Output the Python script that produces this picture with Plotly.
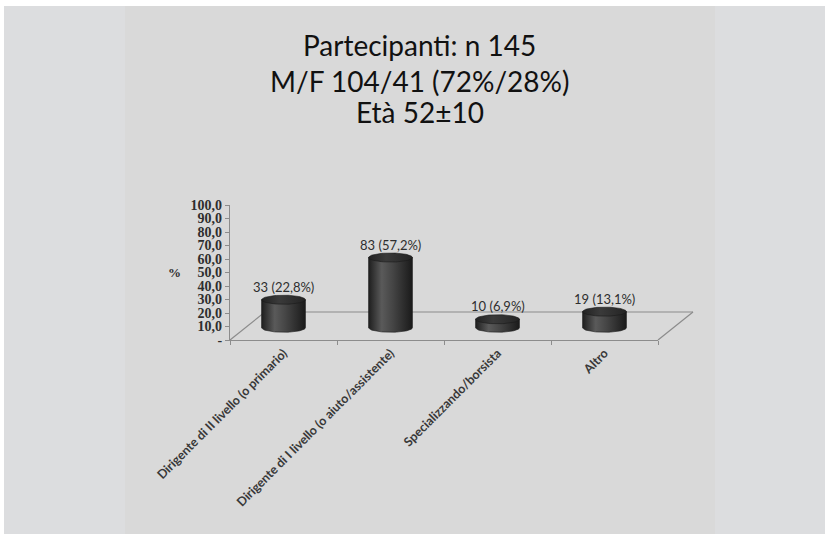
import numpy as np
import plotly.graph_objects as go

# ---- data ----
categories = [
    "Dirigente di II livello (o primario)",
    "Dirigente di I livello (o aiuto/assistente)",
    "Specializzando/borsista",
    "Altro",
]
counts = [33, 83, 10, 19]
percent = [22.8, 57.2, 6.9, 13.1]
y_tick_values = [0, 10, 20, 30, 40, 50, 60, 70, 80, 90, 100]
y_tick_labels = ["-", "10,0", "20,0", "30,0", "40,0", "50,0", "60,0",
                 "70,0", "80,0", "90,0", "100,0"]
title_lines = ["Partecipanti: n 145", "M/F 104/41 (72%/28%)", "Età 52±10"]

# ---- page geometry (pixels) ----
W, H = 825, 534


def px(x):
    return x / W


def py(y):
    return 1 - y / H


# front plane of the plot box
X0, X1 = 230, 658
Y0, Y100 = 340, 205
DEPTH_X, DEPTH_Y = 35, 28          # floor depth offset
UNIT = (Y0 - Y100) / 100.0          # pixels per percent

# cylinders sit halfway into the floor
mid_dx, mid_dy = DEPTH_X / 2, DEPTH_Y / 2
y2_min = -10

half_w = 0.205          # cylinder half width (category units)
rv = 5 / UNIT           # ellipse vertical radius (percent units)

fig = go.Figure()

t_half = np.linspace(0, np.pi, 40)
t_full = np.linspace(0, 2 * np.pi, 80)
for i, v in enumerate(percent):
    c = i
    # cylinder body: straight sides plus the rounded lower rim
    bx = np.concatenate([[c - half_w, c + half_w], c + half_w * np.cos(t_half), [c - half_w]])
    by = np.concatenate([[v, v], -rv * np.sin(t_half), [v]])
    fig.add_trace(go.Scatter(
        x=bx, y=by, xaxis="x2", yaxis="y2", mode="lines",
        line=dict(color="#1c1c1c", width=0.6),
        fill="toself",
        fillgradient=dict(type="horizontal",
                          colorscale=[[0, "#1e1e1e"], [0.3, "#5a5a5a"],
                                      [0.55, "#454545"], [1, "#1a1a1a"]]),
        hoverinfo="skip", showlegend=False,
    ))
    # cylinder top
    fig.add_trace(go.Scatter(
        x=c + half_w * np.cos(t_full), y=v + rv * np.sin(t_full),
        xaxis="x2", yaxis="y2", mode="lines",
        line=dict(color="#1a1a1a", width=0.6),
        fill="toself",
        fillgradient=dict(type="horizontal",
                          colorscale=[[0, "#222222"], [0.4, "#3a3a3a"], [1, "#242424"]]),
        hoverinfo="skip", showlegend=False,
    ))
    fig.add_annotation(
        x=c, y=v, xref="x2", yref="y2", yanchor="bottom", yshift=3,
        text=f"{counts[i]} ({str(v).replace('.', ',')}%)",
        showarrow=False, font=dict(family="Lato", size=13, color="#2e2e2e"),
    )

# invisible trace anchoring the main axes
fig.add_trace(go.Scatter(x=[0, 3], y=[0, 0], mode="markers",
                         marker=dict(opacity=0), hoverinfo="skip", showlegend=False))

line_col = "#8c8c8c"
shapes = [
    # page background strips and panel
    dict(type="rect", xref="paper", yref="paper", x0=0, x1=1, y0=py(6), y1=1,
         fillcolor="white", line=dict(width=0), layer="below"),
    dict(type="rect", xref="paper", yref="paper", x0=0, x1=px(4), y0=0, y1=1,
         fillcolor="white", line=dict(width=0), layer="below"),
    dict(type="rect", xref="paper", yref="paper", x0=px(125), x1=px(715), y0=0, y1=py(6),
         fillcolor="#d9d9d9", line=dict(width=0), layer="below"),
    # floor outline
    dict(type="line", xref="paper", yref="paper", x0=px(X0), y0=py(Y0),
         x1=px(X0 + DEPTH_X), y1=py(Y0 - DEPTH_Y), line=dict(color=line_col, width=1.2), layer="below"),
    dict(type="line", xref="paper", yref="paper", x0=px(X0 + DEPTH_X), y0=py(Y0 - DEPTH_Y),
         x1=px(X1 + DEPTH_X), y1=py(Y0 - DEPTH_Y), line=dict(color=line_col, width=1.2), layer="below"),
    dict(type="line", xref="paper", yref="paper", x0=px(X1), y0=py(Y0),
         x1=px(X1 + DEPTH_X), y1=py(Y0 - DEPTH_Y), line=dict(color=line_col, width=1.2), layer="below"),
]

# title lines
for text, yc in zip(title_lines, [45, 81, 112]):
    fig.add_annotation(x=px(420), y=py(yc), xref="paper", yref="paper",
                       text=text, showarrow=False, yanchor="middle",
                       font=dict(family="Lato", size=28, color="#111111"))

# y-axis title
fig.add_annotation(x=px(166), y=py(272), xref="paper", yref="paper", text="<b>%</b>",
                   showarrow=False, font=dict(family="Liberation Serif", size=13, color="#2e2e2e"))

fig.update_layout(
    width=W, height=H, autosize=False,
    margin=dict(l=0, r=0, t=0, b=0, pad=0, autoexpand=False),
    paper_bgcolor="#dcdddf", plot_bgcolor="rgba(0,0,0,0)",
    shapes=shapes,
    xaxis=dict(domain=[px(X0), px(X1)], range=[-0.5, 3.5], showgrid=False, zeroline=False,
               showline=True, linecolor=line_col, linewidth=1.2, automargin=False,
               tickmode="array", tickvals=[0, 1, 2, 3], ticktext=categories,
               ticks="", tickangle=-45,
               tickfont=dict(family="Lato", size=12.5, color="#383838", weight="bold"),
               minor=dict(ticks="outside", tick0=0.5, dtick=1, ticklen=4,
                          tickcolor=line_col, tickwidth=1),
               fixedrange=True),
    yaxis=dict(domain=[py(Y0), py(Y100)], range=[0, 100], showgrid=False, zeroline=False,
               showline=True, linecolor=line_col, linewidth=1.2, automargin=False,
               tickmode="array", tickvals=y_tick_values, ticktext=y_tick_labels,
               ticks="outside", ticklen=4, tickcolor=line_col,
               tickfont=dict(family="Liberation Serif", size=14, color="#2e2e2e", weight="bold"),
               fixedrange=True),
    xaxis2=dict(domain=[px(X0 + mid_dx), px(X1 + mid_dx)], range=[-0.5, 3.5],
                overlaying="x", anchor="y2", visible=False, fixedrange=True),
    yaxis2=dict(domain=[py(Y0 - mid_dy - y2_min * UNIT), py(Y100 - mid_dy)],
                range=[y2_min, 100], overlaying="y", anchor="x2", visible=False, fixedrange=True),
    showlegend=False,
)

fig.write_html("out.html")
